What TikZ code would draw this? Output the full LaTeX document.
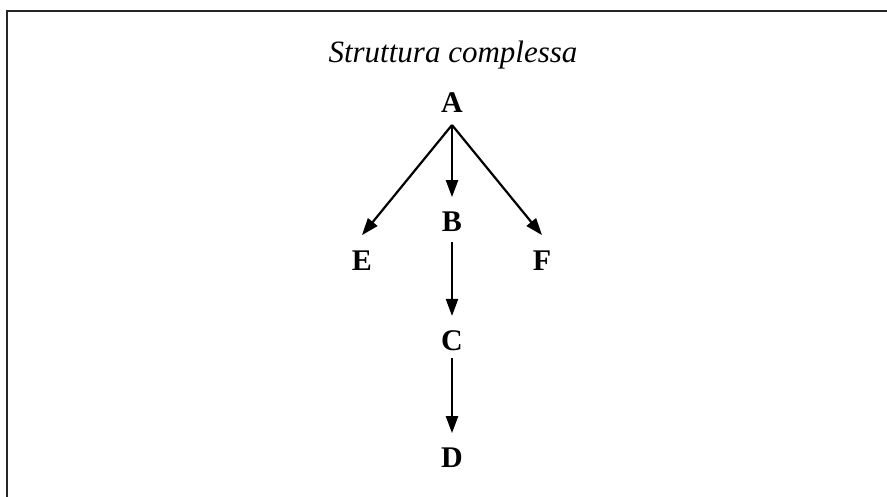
\documentclass[tikz,border=0pt]{standalone}
\usepackage{fontspec}
\setmainfont{Liberation Serif}
\usetikzlibrary{arrows.meta,calc}

\begin{document}
\begin{tikzpicture}[x=1pt,y=-1pt,
    letter/.style={inner sep=0pt,anchor=base,font=\fontsize{30}{32}\selectfont\bfseries},
    heading/.style={inner sep=0pt,anchor=base,font=\fontsize{31}{34}\selectfont\itshape},
    link/.style={line width=2.2pt,-{Triangle[length=17pt,width=12pt]}},
    frameline/.style={line width=2pt,draw=black!85}]
  \useasboundingbox (0,0) rectangle (887,497);

  % open frame: top and left edges only
  \draw[frameline] (7,497) -- (7,11) -- (887,11);

  % heading
  \node[heading] (title) at (453,63) {Struttura complessa};

  % tree nodes
  \node[letter] (A) at (452,113) {A};
  \node[letter] (B) at (452,232) {B};
  \node[letter] (E) at (362,271) {E};
  \node[letter] (F) at (542,271) {F};
  \node[letter] (C) at (452,350) {C};
  \node[letter] (D) at (452,467) {D};

  % common starting point of the three arrows below A
  \coordinate (fork) at ($(A.base)+(0,12)$);

  \draw[link] (fork) -- ($(E.north)+(0,-16)$);
  \draw[link] (fork) -- ($(B.north)+(0,-15)$);
  \draw[link] (fork) -- ($(F.north)+(0,-16)$);
  \draw[link] ($(B.base)+(0,10)$) -- ($(C.north)+(0,-14)$);
  \draw[link] ($(C.base)+(0,8)$) -- ($(D.north)+(0,-14)$);
\end{tikzpicture}
\end{document}
